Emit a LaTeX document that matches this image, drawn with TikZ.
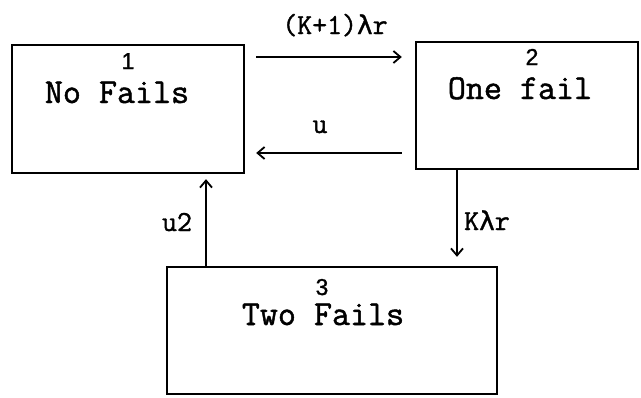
\documentclass[tikz,border=0pt]{standalone}
\usepackage{fontspec}
\setmonofont[FakeBold=1.4]{Latin Modern Mono}
\newfontfamily\digitfont[FakeBold=1.2]{Liberation Sans}
\newfontfamily\greekmono[FakeBold=1.2]{DejaVu Sans Mono}
\newcommand{\lam}{{\fontsize{26}{26}\selectfont\greekmono λ}}
\usetikzlibrary{arrows.meta}
\begin{document}
\begin{tikzpicture}[x=1pt,y=-1pt,
  statebox/.style={draw,line width=2.4pt,rectangle,inner sep=0pt},
  statename/.style={font=\fontsize{35}{35}\selectfont\ttfamily,inner sep=0pt,anchor=base},
  statenum/.style={font=\fontsize{23}{23}\selectfont\digitfont,inner sep=0pt,anchor=base},
  ratelabel/.style={font=\fontsize{29}{29}\selectfont\ttfamily,inner sep=0pt,anchor=base},
  flow/.style={line width=2pt,-{Straight Barb[length=7pt,width=12pt,line width=1.8pt]}}]
\useasboundingbox (0,0) rectangle (641,397);

% the three states
\node[statebox,minimum width=232pt,minimum height=128pt] (b1) at (128,109) {};
\node[statebox,minimum width=222pt,minimum height=127pt] (b2) at (527,105.5) {};
\node[statebox,minimum width=330pt,minimum height=127pt] (b3) at (332,330.5) {};

% state numbers and names
\node[statenum]  (n1) at (128,69) {1};
\node[statename] (t1) at (117,103) {No Fails};
\node[statenum]  (n2) at (532,65) {2};
\node[statename] (t2) at (520,99) {One fail};
\node[statenum]  (n3) at (322,295) {3};
\node[statename] (t3) at (323,325) {Two Fails};

% transitions
\draw[flow,shorten <=11pt,shorten >=13pt] (b1.east |- 0,57) -- (b2.west |- 0,57);
\draw[flow,shorten <=13pt,shorten >=11pt] (b2.west |- 0,153) -- (b1.east |- 0,153);
\draw[flow,shorten >=9pt] (b2.south -| 457,0) -- (b3.north -| 457,0);
\draw[flow,shorten >=5pt] (b3.north -| 206,0) -- (b1.south -| 206,0);

% transition rates
\node[ratelabel] (r12) at (335,34) {(K+1)\lam r};
\node[ratelabel] (r21) at (320,133) {u};
\node[ratelabel] (r23) at (487,230) {K\lam r};
\node[ratelabel] (r31) at (177,231) {u2};
\end{tikzpicture}
\end{document}
